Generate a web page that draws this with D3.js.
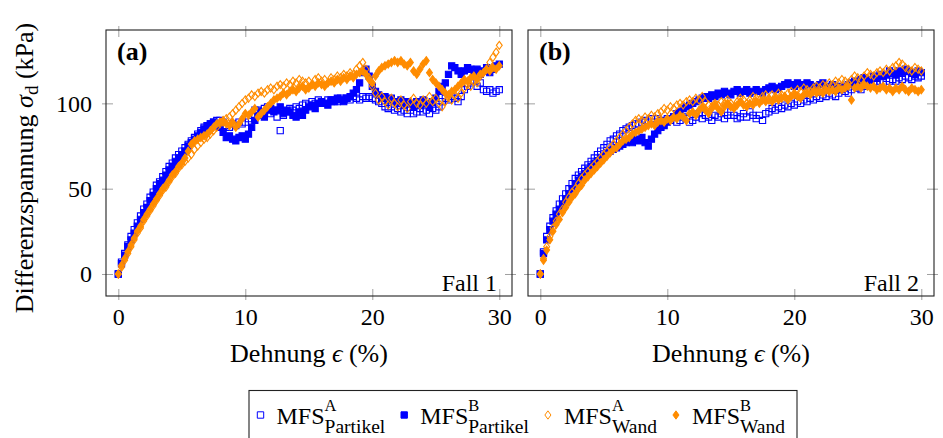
<!DOCTYPE html>
<html>
<head>
<meta charset="utf-8">
<script src="https://cdn.jsdelivr.net/npm/d3@7"></script>
<style>
  body { margin: 0; background: #fff; }
  svg { display: block; }
  text { font-family: "Liberation Serif", "Times New Roman", serif; fill: #000; }
</style>
</head>
<body>
<svg id="chart" width="943" height="438"></svg>
<script>
// Strain sample points (%) shared by every series
const strain = [
  0, 0.25, 0.5, 0.75, 1, 1.25, 1.5, 1.75, 2, 2.25, 2.5, 2.75, 3, 3.25, 3.5, 3.75,
  4, 4.25, 4.5, 4.75, 5, 5.25, 5.5, 5.75, 6, 6.25, 6.5, 6.75, 7, 7.25, 7.5, 7.75,
  8, 8.25, 8.5, 8.75, 9, 9.25, 9.5, 9.75, 10, 10.25, 10.5, 10.75, 11, 11.25, 11.5, 11.75,
  12, 12.25, 12.5, 12.75, 13, 13.25, 13.5, 13.75, 14, 14.25, 14.5, 14.75, 15, 15.25, 15.5, 15.75,
  16, 16.25, 16.5, 16.75, 17, 17.25, 17.5, 17.75, 18, 18.25, 18.5, 18.75, 19, 19.25, 19.5, 19.75,
  20, 20.25, 20.5, 20.75, 21, 21.25, 21.5, 21.75, 22, 22.25, 22.5, 22.75, 23, 23.25, 23.5, 23.75,
  24, 24.25, 24.5, 24.75, 25, 25.25, 25.5, 25.75, 26, 26.25, 26.5, 26.75, 27, 27.25, 27.5, 27.75,
  28, 28.25, 28.5, 28.75, 29, 29.25, 29.5, 29.75, 30
];

const xTickValues = [0, 10, 20, 30];
const yTickValues = [0, 50, 100];

// Deviator stress (kPa), case 1
const fall1PartikelA = [
  0,7,12,17, 22,26,30,34, 38,41,45,48, 52,54,57,60, 63,65,68,70, 72,74,76,78,
  80,82,84,86, 87,88,89,90, 90,89,87,86, 88,87,89,88, 89,91,93,96, 96,95,97,98,
  94,96,92,84, 93,95,97,96, 98,97,99,100, 99,101,100,102, 101,100,102,101, 102,101,103,102,
  103,102,104,103, 102,104,103,104, 103,102,101,100, 98,97,98,96, 97,95,96,94, 96,94,95,97,
  95,96,94,97, 96,98,101,103, 102,104,103,101, 104,108,110,112, 113,110,112,108, 107,108,106,107,
  108
];
const fall1PartikelB = [
  0,6,11,16, 20,24,28,32, 36,39,43,46, 50,53,55,58, 61,63,66,68, 70,72,75,77,
  79,81,83,85, 87,88,89,88, 86,83,80,81, 79,78,80,81, 79,82,86,90, 93,95,92,96,
  97,95,96,98, 94,96,95,93, 92,95,93,96, 98,99,97,100, 101,100,99,102, 101,103,102,101,
  103,104,106,108, 112,118,120,116, 110,107,105,103, 104,102,103,101, 100,102,99,101, 100,98,101,99,
  102,100,98,101, 103,107,110,112, 117,122,121,119, 117,119,121,120, 118,120,117,119, 121,118,120,122,
  123
];
const fall1WandA = [
  0,4,8,12, 16,20,24,27, 31,34,37,40, 43,46,49,51, 54,57,59,62, 64,66,68,70,
  73,75,77,79, 80,82,84,86, 88,89,91,92, 94,96,98,100, 102,103,105,104, 106,107,106,108,
  109,108,110,111, 110,112,111,113, 112,114,113,112, 113,111,114,115, 113,114,112,115, 114,116,115,117,
  116,118,117,120, 122,124,120,115, 110,106,102,104, 101,99,103,100, 98,102,99,97, 101,103,100,99,
  102,100,104,101, 103,100,98,101, 104,102,105,103, 106,109,111,110, 113,112,116,118, 120,124,127,130,
  134
];
const fall1WandB = [
  0,5,9,13, 17,21,25,28, 32,35,38,41, 44,47,50,52, 55,58,60,63, 65,68,72,76,
  78,79,80,81, 82,84,86,88, 89,90,88,87, 89,86,88,91, 94,93,95,97, 92,94,96,98,
  100,102,103,104, 106,105,107,108, 107,109,110,108, 109,111,110,112, 111,110,112,113, 112,114,113,115,
  114,116,115,117, 118,119,117,114, 112,116,119,121, 122,123,124,125, 124,125,123,122, 124,119,117,120,
  123,125,118,114, 112,110,108,106, 105,107,108,110, 112,114,113,115, 116,114,117,118, 120,119,121,120,
  122
];

// Deviator stress (kPa), case 2
const fall2PartikelA = [
  0,13,22,28, 33,37,41,44, 47,50,53,56, 58,60,62,64, 66,68,70,72, 74,76,78,79,
  81,82,84,85, 86,87,88,88, 89,90,89,91, 89,91,90,89, 91,90,92,89, 90,92,91,89,
  90,92,94,91, 93,92,90,93, 92,94,91,93, 95,93,91,92, 94,92,95,93, 91,93,90,94,
  95,97,96,98, 97,99,98,100, 99,101,100,102, 101,103,102,104, 103,105,104,106, 105,104,106,108,
  107,106,108,110, 109,108,110,111, 110,112,111,113, 112,111,113,114, 113,115,114,116, 115,114,116,115,
  116
];
const fall2PartikelB = [
  0,12,20,26, 31,35,38,41, 44,47,50,52, 55,57,59,61, 63,65,66,68, 69,71,72,73,
  74,75,76,77, 78,77,79,78, 80,77,75,79, 82,84,86,87, 89,91,92,94, 95,97,98,99,
  100,101,102,103, 104,103,105,104, 106,105,107,106, 105,107,108,106, 107,108,106,107, 108,107,106,108,
  109,110,108,109, 110,111,112,111, 110,112,111,110, 112,111,109,110, 111,112,110,109, 111,110,108,110,
  109,111,112,113, 112,114,115,113, 114,116,115,117, 116,117,119,118, 117,119,118,120, 119,118,117,119,
  118
];
const fall2WandA = [
  0,9,16,22, 27,31,35,38, 42,45,48,50, 53,56,58,60, 62,64,66,68, 70,72,74,76,
  78,80,82,84, 86,88,90,91, 90,92,91,93, 92,94,95,97, 96,98,97,99, 100,99,101,102,
  101,103,102,104, 101,99,98,100, 99,101,100,102, 100,98,101,103, 102,100,102,104, 103,102,104,105,
  103,105,104,106, 105,104,106,107, 106,108,107,109, 108,107,109,110, 109,111,110,112, 111,113,112,114,
  113,112,114,116, 115,114,116,118, 117,116,118,119, 118,120,119,121, 122,124,123,121, 120,119,121,120,
  119
];
const fall2WandB = [
  0,8,14,20, 25,29,32,36, 39,42,45,47, 50,52,55,57, 59,61,63,65, 67,69,71,73,
  74,76,78,79, 80,82,83,84, 85,86,87,88, 87,89,90,89, 91,90,92,91, 93,92,90,94,
  95,93,96,98, 96,94,97,99, 97,95,98,100, 98,97,99,101, 99,98,100,99, 101,100,102,101,
  102,101,103,102, 103,104,102,104, 105,104,103,105, 106,105,107,106, 107,106,108,107, 108,107,109,108,
  109,110,102,109, 110,109,111,110, 109,110,108,109, 110,108,109,107, 109,108,110,108, 107,109,108,107,
  108
];

// Legend: base name with superscript (set) and subscript (location)
const legendBase = "MFS";
const legendSup = ["A", "B", "A", "B"];
const legendSub = ["Partikel", "Partikel", "Wand", "Wand"];

const panelTags = ["(a)", "(b)"];
const caseLabels = ["Fall 1", "Fall 2"];

// ---- styling ----
const blue = "#0000ff";
const orange = "#ff8c00";
const markerStyles = [
  { shape: "square",  fill: "none", stroke: blue },
  { shape: "square",  fill: blue,   stroke: blue },
  { shape: "diamond", fill: "none", stroke: orange },
  { shape: "diamond", fill: orange, stroke: orange }
];

function markerPath(shape, s) {
  if (shape === "square") return `M${-s},${-s}H${s}V${s}H${-s}Z`;
  const h = s * 1.3, w = s * 0.95;
  return `M0,${-h}L${w},0L0,${h}L${-w},0Z`;
}

const svg = d3.select("#chart");
const plotTop = 30, plotBottom = 296;
const panels = [
  { left: 106, right: 512, series: [fall1PartikelA, fall1PartikelB, fall1WandA, fall1WandB] },
  { left: 528, right: 934, series: [fall2PartikelA, fall2PartikelB, fall2WandA, fall2WandB] }
];

const y = d3.scaleLinear().domain([-12.9, 143]).range([plotBottom, plotTop]);
const tickColor = "#a0a0a0";

panels.forEach((p, i) => {
  const x = d3.scaleLinear().domain([-0.97, 31]).range([p.left, p.right]);
  const g = svg.append("g");

  // scatter marks
  p.series.forEach((vals, k) => {
    const st = markerStyles[k];
    g.append("g")
      .selectAll("path")
      .data(vals)
      .join("path")
      .attr("transform", (v, j) => `translate(${x(strain[j])},${y(v)})`)
      .attr("d", markerPath(st.shape, 3.1))
      .attr("fill", st.fill)
      .attr("stroke", st.stroke)
      .attr("stroke-width", 1.1);
  });

  // axes: ticks straddle the frame, mirrored on all four sides
  const inner = 7, outer = 4;
  const bottomAxis = g.append("g").attr("transform", `translate(0,${plotBottom})`)
    .call(d3.axisBottom(x).tickValues(xTickValues).tickSizeInner(-inner).tickSizeOuter(0).tickPadding(12));
  bottomAxis.selectAll("line").attr("y1", outer);
  const topAxis = g.append("g").attr("transform", `translate(0,${plotTop})`)
    .call(d3.axisTop(x).tickValues(xTickValues).tickSizeInner(-inner).tickSizeOuter(0).tickFormat(""));
  topAxis.selectAll("line").attr("y1", -outer);
  const leftAxis = g.append("g").attr("transform", `translate(${p.left},0)`)
    .call(d3.axisLeft(y).tickValues(yTickValues).tickSizeInner(-inner).tickSizeOuter(0).tickPadding(14)
      .tickFormat(i === 0 ? d3.format("d") : ""));
  leftAxis.selectAll("line").attr("x1", -outer);
  const rightAxis = g.append("g").attr("transform", `translate(${p.right},0)`)
    .call(d3.axisRight(y).tickValues(yTickValues).tickSizeInner(-inner).tickSizeOuter(0).tickFormat(""));
  rightAxis.selectAll("line").attr("x1", outer);

  [bottomAxis, topAxis, leftAxis, rightAxis].forEach(a => {
    a.attr("font-family", null);
    a.select(".domain").remove();
    a.selectAll("line").attr("stroke", tickColor);
    a.selectAll("text").style("font-family", '"Liberation Serif", serif').style("font-size", "24px").attr("fill", "#000");
  });

  // frame
  g.append("rect")
    .attr("x", p.left).attr("y", plotTop)
    .attr("width", p.right - p.left).attr("height", plotBottom - plotTop)
    .attr("fill", "none").attr("stroke", "#222").attr("stroke-width", 1.1);

  // panel tag and case label
  g.append("text").attr("x", p.left + 11).attr("y", 60)
    .style("font-size", "26px").style("font-weight", "bold").text(panelTags[i]);
  g.append("text").attr("x", p.right - 15).attr("y", 291)
    .attr("text-anchor", "end").style("font-size", "24px").text(caseLabels[i]);

  // x-axis title
  const xt = g.append("text").attr("x", (p.left + p.right) / 2).attr("y", 362)
    .attr("text-anchor", "middle").style("font-size", "26px");
  xt.append("tspan").text("Dehnung ");
  xt.append("tspan").style("font-style", "italic").text("\u03F5");
  xt.append("tspan").text(" (%)");
});

// y-axis title
const yt = svg.append("text")
  .attr("transform", "translate(33,168) rotate(-90)")
  .attr("text-anchor", "middle").style("font-size", "26px");
yt.append("tspan").text("Differenzspannung ");
yt.append("tspan").style("font-style", "italic").text("\u03C3");
yt.append("tspan").attr("dy", 5).style("font-size", "19px").text("d");
yt.append("tspan").attr("dy", -5).text(" (kPa)");

// legend
const legend = svg.append("g");
const legendLeft = 249, legendTop = 390.5;
const baseY = 424;
let cx = legendLeft + 11.5;
legendSup.forEach((sup, k) => {
  const st = markerStyles[k];
  legend.append("path")
    .attr("transform", `translate(${cx},${baseY - 9})`)
    .attr("d", markerPath(st.shape, 3.2))
    .attr("fill", st.fill).attr("stroke", st.stroke).attr("stroke-width", 1);
  const tx = cx + 16;
  const base = legend.append("text").attr("x", tx).attr("y", baseY).style("font-size", "24px").text(legendBase);
  const bw = base.node().getComputedTextLength();
  const supT = legend.append("text").attr("x", tx + bw).attr("y", baseY - 13).style("font-size", "16.5px").text(sup);
  const subT = legend.append("text").attr("x", tx + bw).attr("y", baseY + 8.5).style("font-size", "19.5px").text(legendSub[k]);
  const ew = bw + Math.max(supT.node().getComputedTextLength(), subT.node().getComputedTextLength());
  cx = tx + ew + 19;
});
const legendRight = cx - 19 + 12;
legend.insert("rect", ":first-child")
  .attr("x", legendLeft).attr("y", legendTop)
  .attr("width", legendRight - legendLeft).attr("height", 60)
  .attr("fill", "#fff").attr("stroke", "#222").attr("stroke-width", 1.1);
</script>
</body>
</html>
